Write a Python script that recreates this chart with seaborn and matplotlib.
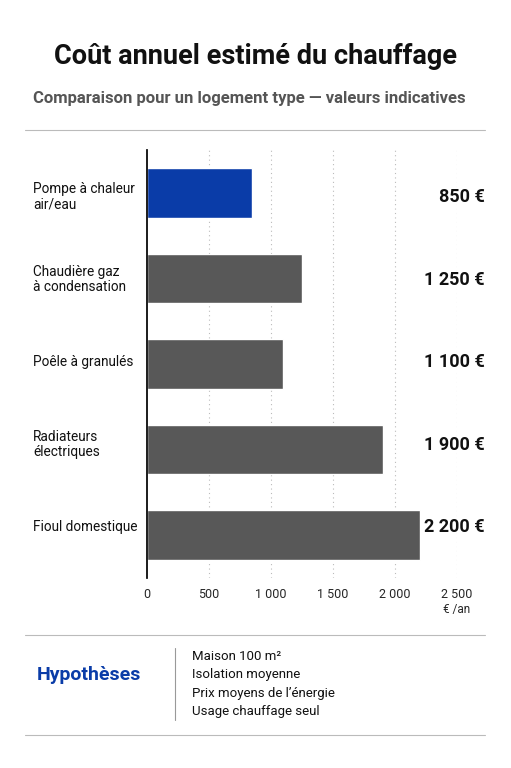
import matplotlib
matplotlib.use("Agg")
import matplotlib.pyplot as plt
import seaborn as sns
import pandas as pd

categories = ["Pompe à chaleur\nair/eau", "Chaudière gaz\nà condensation", "Poêle à granulés",
              "Radiateurs\nélectriques", "Fioul domestique"]
values = [850, 1250, 1100, 1900, 2200]
value_labels = ["850 €", "1 250 €", "1 100 €", "1 900 €", "2 200 €"]
ticks = [0, 500, 1000, 1500, 2000, 2500]
tick_labels = ["0", "500", "1 000", "1 500", "2 000", "2 500"]
notes = ["Maison 100 m²", "Isolation moyenne", "Prix moyens de l’énergie", "Usage chauffage seul"]

sns.set_theme(style="white")
plt.rcParams['font.family'] = ['Roboto', 'DejaVu Sans']

W, H = 511, 768
fig = plt.figure(figsize=(W/100, H/100), dpi=100)
ax = fig.add_axes([147/W, 1-578/H, (457-147)/W, (578-150)/H])
df = pd.DataFrame({"cat": categories, "val": values})
colors = ["#0a3ca8"] + ["#585858"]*4
sns.barplot(data=df, y="cat", x="val", hue="cat", palette=colors, legend=False,
            width=0.58, ax=ax, saturation=1)
ax.set_xlim(0, 2500)
ax.set_ylim(4.5, -0.5)
ax.set_xticks(ticks)
ax.set_xticklabels(tick_labels, fontsize=9)
ax.set_yticks([])
ax.set_xlabel(""); ax.set_ylabel("")
for s in ["top", "right", "bottom"]:
    ax.spines[s].set_visible(False)
ax.spines["left"].set_color("black")
ax.tick_params(axis="x", length=0, pad=7)
for t in ticks[1:]:
    ax.axvline(t, color="#bbbbbb", ls=(0, (1, 3)), lw=0.8, zorder=0)
for i, (c, lab) in enumerate(zip(categories, value_labels)):
    yc = 1 - (197 + i*82.5)/H
    fig.text(33/W, yc, c, ha="left", va="center", fontsize=9.8, color="#111111",
             linespacing=1.1)
    fig.text(485/W, yc, lab, ha="right", va="center",
             fontsize=13, fontweight="bold", color="#111111")
fig.text(457/W, 1-609/H, "€ /an", ha="center", va="center", fontsize=8.5)

fig.text(W/2/W, 1-57/H, "Coût annuel estimé du chauffage", ha="center", va="center",
         fontsize=19.5, fontweight="bold", color="#111111")
fig.text(33/W, 1-99/H, "Comparaison pour un logement type — valeurs indicatives",
         ha="left", va="center", fontsize=12, fontweight="bold", color="#555555")
for y in [130, 635, 735]:
    fig.add_artist(plt.Line2D([25/W, 485/W], [1-y/H, 1-y/H], color="#bbbbbb", lw=0.8))
fig.add_artist(plt.Line2D([175/W, 175/W], [1-648/H, 1-720/H], color="#999999", lw=0.8))
fig.text(37/W, 1-675/H, "Hypothèses", ha="left", va="center", fontsize=14,
         fontweight="bold", color="#0a3ca8")
for i, n in enumerate(notes):
    fig.text(192/W, 1-(656 + i*18.5)/H, n, ha="left", va="center", fontsize=9.5, color="#111111")
fig.savefig("out.png", dpi=100)
